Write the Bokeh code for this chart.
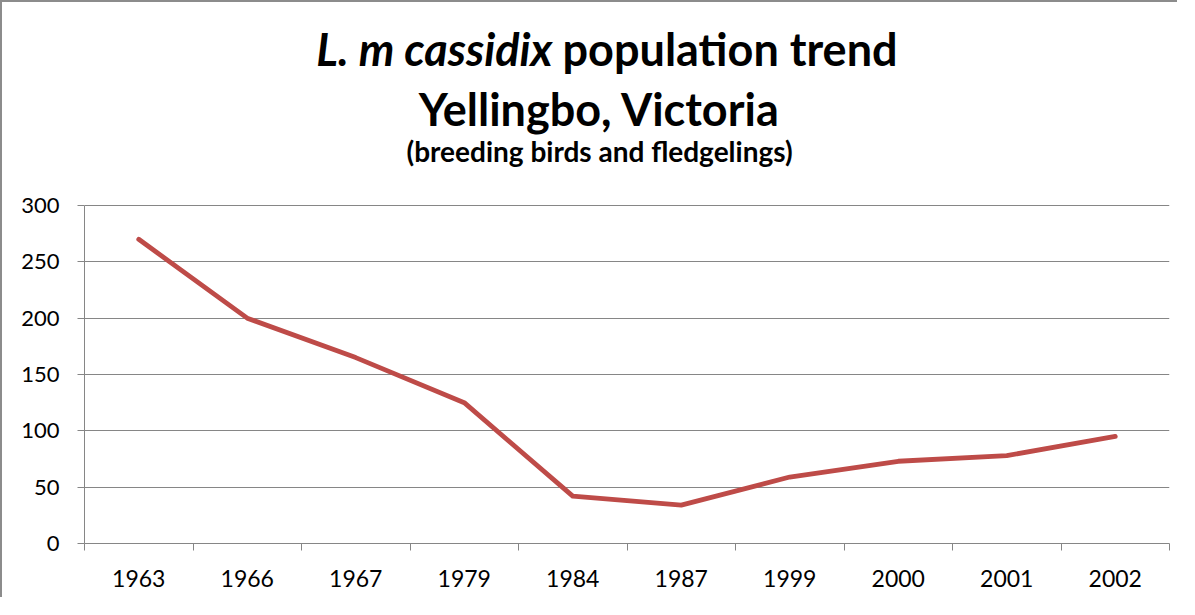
from bokeh.plotting import figure
from bokeh.models import Range1d, FixedTicker, CustomJSTickFormatter, Label
from bokeh.embed import file_html
from bokeh.resources import INLINE

# ---- data ----
years = ["1963", "1966", "1967", "1979", "1984", "1987", "1999", "2000", "2001", "2002"]
population = [270, 200, 165, 125, 42, 34, 59, 73, 78, 95]
y_ticks = [0, 50, 100, 150, 200, 250, 300]

FONT = "Lato"
GRAY = "#868686"
RED = "#BE4B48"

n = len(years)
xs = [i + 0.5 for i in range(n)]
y_max = y_ticks[-1]

# the frame reaches up to the canvas top so that the title labels sit inside it;
# the axis is bounded to the 0..300 value range
p = figure(width=1177, height=597, output_backend="svg", toolbar_location=None,
           x_range=Range1d(0, n), y_range=Range1d(0, 480.2),
           min_border_left=82, min_border_right=10, min_border_top=0, min_border_bottom=56)
p.title.visible = False
p.styles = {"border-left": "2px solid #8c8c8c", "border-top": "2px solid #8c8c8c"}
p.outline_line_color = None
p.background_fill_color = "white"
p.border_fill_color = "white"

p.line(xs, population, line_width=4.8, color=RED, line_join="round", line_cap="round")

# y axis
p.yaxis.ticker = FixedTicker(ticks=y_ticks)
p.yaxis.bounds = (0, y_max)
p.yaxis.axis_line_color = GRAY
p.yaxis.major_tick_line_color = GRAY
p.yaxis.major_tick_in = 0
p.yaxis.major_tick_out = 7
p.yaxis.minor_tick_line_color = None
p.yaxis.major_label_standoff = 18
p.yaxis.major_label_text_font = FONT
p.yaxis.major_label_text_font_size = "22px"
p.yaxis.major_label_text_color = "black"

# x axis: labels at category centres, ticks at boundaries
p.xaxis.ticker = FixedTicker(ticks=xs, minor_ticks=list(range(n + 1)))
p.xaxis.formatter = CustomJSTickFormatter(args=dict(labels=years),
                                          code="return labels[Math.floor(tick)];")
p.xaxis.axis_line_color = GRAY
p.xaxis.major_tick_line_color = None
p.xaxis.minor_tick_line_color = GRAY
p.xaxis.minor_tick_in = 0
p.xaxis.minor_tick_out = 7
p.xaxis.major_tick_out = 7
p.xaxis.major_tick_in = 0
p.xaxis.major_label_standoff = 19
p.xaxis.major_label_text_font = FONT
p.xaxis.major_label_text_font_size = "23px"
p.xaxis.major_label_text_color = "black"

p.xgrid.grid_line_color = None
p.ygrid.ticker = FixedTicker(ticks=y_ticks)
p.ygrid.grid_line_color = GRAY
p.ygrid.grid_line_width = 1

# ---- title (three lines, first with italic species name) ----
def title_label(x, y, text, style, size, align):
    return Label(x=x, y=y, text=text,
                 text_font=FONT, text_font_style=style, text_font_size=size,
                 text_align=align, text_baseline="alphabetic", text_color="black")

p.add_layout(title_label(4.313, 438.5, "L. m cassidix", "bold italic", "45px", "right"))
p.add_layout(title_label(4.406, 438.5, "population trend", "bold", "45px", "left"))
p.add_layout(title_label(4.747, 386.1, "Yellingbo, Victoria", "bold", "45px", "center"))
p.add_layout(title_label(4.747, 348.8, "(breeding birds and fledgelings)", "bold", "28px", "center"))

open("out.html", "w").write(file_html(p, INLINE))
